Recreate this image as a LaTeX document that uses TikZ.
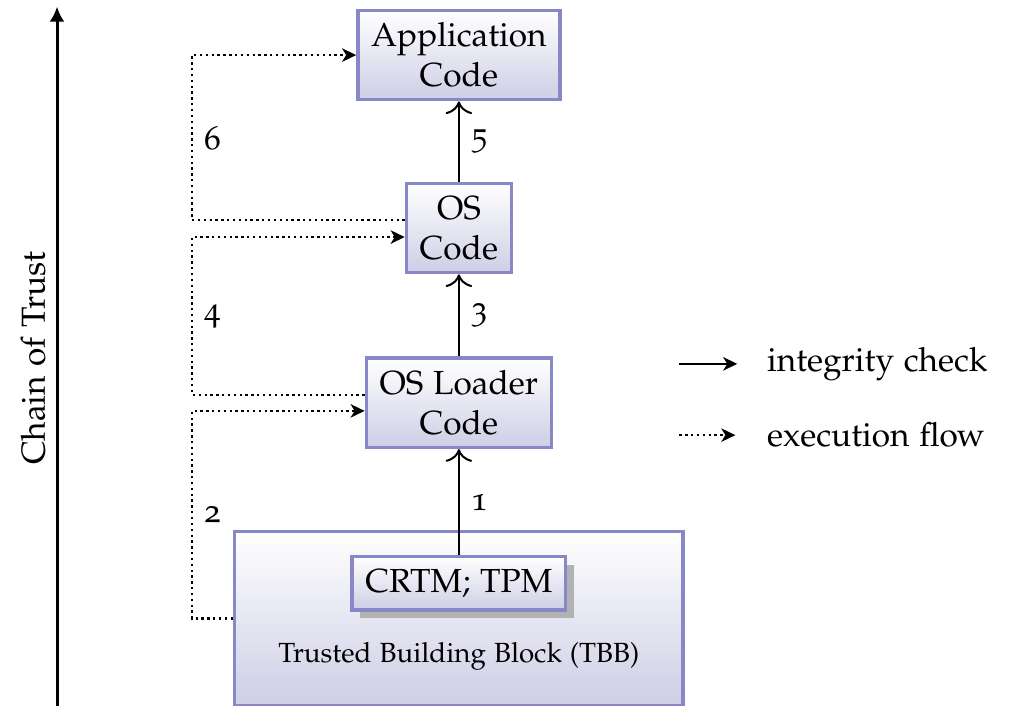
\documentclass[tikz,border=0pt]{standalone}
\usepackage[T1]{fontenc}
\usepackage[osf]{mathpazo}
\usetikzlibrary{arrows.meta, positioning, shadows}

\definecolor{boxline}{RGB}{136,136,200}
\definecolor{boxfill}{RGB}{206,206,230}

\tikzset{
  block/.style={draw=boxline, line width=1pt, top color=white, bottom color=boxfill,
    align=center, inner xsep=4pt, minimum height=0.94cm},
  check/.style={-{To[scale=1.3]}, line width=0.6pt},
  flow/.style={-{Stealth[length=4.2pt,width=4pt,inset=1.2pt]}, line width=0.7pt,
    dash pattern=on 0.7pt off 1.05pt},
}

\begin{document}
\begin{tikzpicture}
  \useasboundingbox (0,0) rectangle (10.62,7.43);

  % trusted building block
  \node[block, minimum width=4.72cm, minimum height=1.83cm] (TBB) at (4.83,0.92) {};
  \node[block, minimum height=0.56cm, inner ysep=3pt,
    drop shadow={shadow xshift=2.4pt, shadow yshift=-2.4pt, fill=black!30, opacity=1}]
    (CRTM) at (4.83,1.29) {CRTM; TPM};
  \node[font=\fontsize{8.3pt}{10pt}\selectfont] (TBBtext) at (4.83,0.52) {Trusted Building Block (TBB)};

  % boot stages
  \node[block] (Loader) at (4.83,3.19) {OS Loader\\Code};
  \node[block] (OS) at (4.83,5.03) {OS\\Code};
  \node[block] (App) at (4.83,6.85) {Application\\Code};

  % integrity checks
  \draw[check] (CRTM) -- node[right] {1} (Loader);
  \draw[check] (Loader) -- node[right] {3} (OS);
  \draw[check] (OS) -- node[right] {5} (App);

  % execution flow
  \coordinate (rail) at (2.02,0);
  \draw[flow] (TBB.west) -- (TBB.west -| rail)
    |- node[pos=0.25, right] {2} ([yshift=-0.085cm]Loader.west);
  \draw[flow] ([yshift=0.085cm]Loader.west) -- ([yshift=0.085cm]Loader.west -| rail)
    |- node[pos=0.25, right] {4} ([yshift=-0.095cm]OS.west);
  \draw[flow] ([yshift=0.085cm]OS.west) -- ([yshift=0.085cm]OS.west -| rail)
    |- node[pos=0.25, right] {6} (App.west);

  % legend
  \coordinate (chkA) at (7.15,3.6);
  \coordinate (chkB) at (7.76,3.6);
  \node[anchor=west] (chklabel) at (7.95,3.6) {integrity check};
  \draw[-{Stealth[length=4.2pt,width=4pt,inset=1.2pt]}, line width=0.7pt] (chkA) -- (chkB);
  \coordinate (flowA) at (7.15,2.85);
  \coordinate (flowB) at (7.74,2.85);
  \node[anchor=west] (flowlabel) at (7.95,2.85) {execution flow};
  \draw[flow] (flowA) -- (flowB);

  % chain of trust
  \coordinate (trustbot) at (0.6,0);
  \coordinate (trusttop) at (0.6,7.36);
  \draw[-{Latex[length=4.5pt,width=4.5pt]}, line width=0.9pt] (trustbot) -- (trusttop);
  \node[rotate=90] (trust) at (0.35,3.66) {Chain of Trust};
\end{tikzpicture}
\end{document}
